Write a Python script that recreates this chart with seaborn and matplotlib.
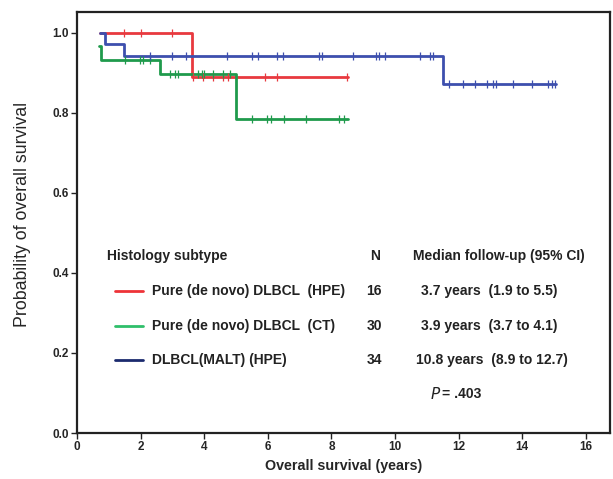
import matplotlib
matplotlib.use("Agg")
import matplotlib.pyplot as plt
import seaborn as sns
import numpy as np
import pandas as pd

sns.set_style("ticks")
plt.rcParams['font.family'] = ['Liberation Sans', 'DejaVu Sans']

# step curves (time in years, survival probability)
red_t = [0.72, 3.62, 8.52]
red_s = [1.0, 0.89, 0.89]
green_t = [0.70, 0.75, 2.60, 4.99, 8.52]
green_s = [0.967, 0.933, 0.897, 0.784, 0.784]
blue_t = [0.72, 0.88, 1.49, 11.50, 15.06]
blue_s = [1.0, 0.973, 0.943, 0.871, 0.871]

# censored observations
red_cens = [1.49, 2.01, 3.0, 3.66, 3.97, 4.29, 4.6, 4.75, 5.91, 6.28, 8.48]
green_cens = [1.51, 1.98, 2.08, 2.3, 2.92, 3.08, 3.18, 3.8, 3.92, 4.0, 4.28,
              4.6, 4.81, 5.49, 5.99, 6.09, 6.51, 7.2, 8.25, 8.4]
blue_cens = [2.3, 3.0, 3.43, 4.71, 5.49, 5.7, 6.3, 6.47, 7.62, 7.69, 8.69,
             9.4, 9.5, 9.69, 10.8, 11.1, 11.2, 11.71, 12.13, 12.52, 12.88,
             13.09, 13.18, 13.7, 14.3, 14.82, 14.93, 15.03]

groups = ["Pure (de novo) DLBCL  (HPE)", "Pure (de novo) DLBCL  (CT)", "DLBCL(MALT) (HPE)"]
n_vals = ["16", "30", "34"]
medians = ["3.7 years  (1.9 to 5.5)", "3.9 years  (3.7 to 4.1)", "10.8 years  (8.9 to 12.7)"]
curve_colors = ["#e8393f", "#1f9a4c", "#3d4fae"]
legend_colors = ["#ee3338", "#2fbf6a", "#1b2a6e"]

curves = [(red_t, red_s, red_cens), (green_t, green_s, green_cens), (blue_t, blue_s, blue_cens)]

rows = []
cens_rows = []
for g, (t, s, c) in zip(groups, curves):
    for ti, si in zip(t, s):
        rows.append({"time": ti, "surv": si, "group": g})
    for ci in c:
        idx = np.searchsorted(t, ci, side="right") - 1
        cens_rows.append({"time": ci, "surv": s[idx], "group": g})
df = pd.DataFrame(rows)
cens = pd.DataFrame(cens_rows)

fig = plt.figure(figsize=(6.13, 4.79), dpi=100)
ax = fig.add_axes([0.1256, 0.096, 0.869, 0.879])

pal = dict(zip(groups, curve_colors))
sns.lineplot(data=df, x="time", y="surv", hue="group", palette=pal, estimator=None,
             sort=False, drawstyle="steps-post", linewidth=2.0, legend=False, ax=ax)
for g in groups:
    sub = cens[cens.group == g]
    ax.plot(sub.time, sub.surv, linestyle="none", marker="|", markersize=6,
            markeredgewidth=0.9, color=pal[g])

ax.set_xlim(0, 16.75)
ax.set_ylim(0, 1.052)
ax.set_xticks(np.arange(0, 17, 2))
ax.set_yticks(np.arange(0, 1.01, 0.2))
ax.set_yticklabels(["%.1f" % v for v in np.arange(0, 1.01, 0.2)])
for sp in ax.spines.values():
    sp.set_visible(True)
    sp.set_linewidth(1.6)
    sp.set_color("#222222")
ax.tick_params(width=1.0, length=4, color="#222222", labelsize=8.5, pad=2)
for lab in ax.get_xticklabels() + ax.get_yticklabels():
    lab.set_fontweight("bold")
ax.set_xlabel("Overall survival (years)", fontsize=10.3, fontweight="bold", labelpad=4)
ax.set_ylabel("Probability of overall survival", fontsize=12.8)
ax.yaxis.set_label_coords(-0.086, 0.52)

# table-like legend
tk = dict(transform=ax.transData, fontsize=10, fontweight="bold", color="#222222")
def px(xp):
    return (xp - 77) / 31.8
def py(yp):
    return (433 - yp) / 400

ax.text(px(167), py(256), "Histology subtype", ha="center", va="center", **tk)
ax.text(px(375), py(256), "N", ha="center", va="center", **tk)
ax.text(px(499), py(256), "Median follow-up (95% CI)", ha="center", va="center", **tk)
row_y = [291, 326, 360]
for i, g in enumerate(groups):
    ax.plot([px(115), px(143)], [py(row_y[i])] * 2, color=legend_colors[i], lw=2)
    ax.text(px(152), py(row_y[i]), g, ha="left", va="center", **tk)
    ax.text(px(374), py(row_y[i]), n_vals[i], ha="center", va="center", **tk)
    ax.text(px(421 if i < 2 else 416), py(row_y[i]), medians[i], ha="left", va="center", **tk)
ax.text(px(430), py(394), r"$\it{P}$", ha="left", va="center", transform=ax.transData,
        fontsize=11, color="#222222")
ax.text(px(442), py(394), "= .403", ha="left", va="center", **tk)

fig.savefig("out.png", dpi=100)
